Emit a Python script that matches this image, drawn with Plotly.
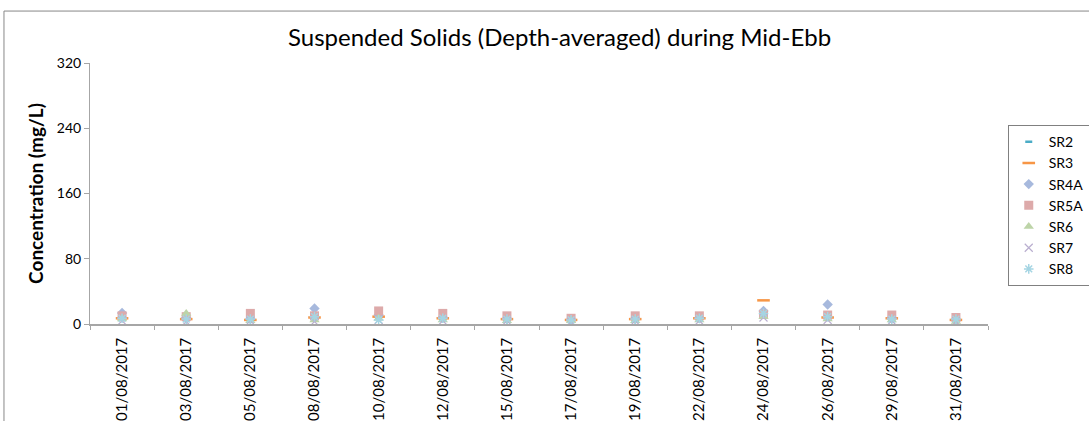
import plotly.graph_objects as go

dates = ["01/08/2017", "03/08/2017", "05/08/2017", "08/08/2017", "10/08/2017",
         "12/08/2017", "15/08/2017", "17/08/2017", "19/08/2017", "22/08/2017",
         "24/08/2017", "26/08/2017", "29/08/2017", "31/08/2017"]

sr2 = [6, 5, 5, 7, 8, 6, 5, 4, 5, 6, 9, 7, 5, 4]
sr3 = [7, 6, 5, 8, 9, 7, 6, 5, 6, 7, 29, 8, 7, 5]
sr4a = [13.5, 8, 6, 19, 11, 8, 6, 5, 6, 7, 16, 24, 7, 5]
sr5a = [10, 9, 13, 10, 16, 13, 10, 7, 10, 10, 12, 11, 11, 8]
sr6 = [6, 13, 4, 5, 7, 5, 4, 4, 4, 5, 9, 6, 5, 3]
sr7 = [4, 3, 4, 3, 5, 4, 4, 3, 4, 4, 8, 5, 4, 3]
sr8 = [7, 6, 6, 9, 5, 7, 6, 5, 6, 7, 13, 9, 6, 6]

series = [
    ("SR2", sr2, dict(symbol="line-ew", size=5, color="#4BACC6", line=dict(color="#4BACC6", width=2.5))),
    ("SR3", sr3, dict(symbol="line-ew", size=9, color="#F79646", line=dict(color="#F79646", width=2.5))),
    ("SR4A", sr4a, dict(symbol="diamond", size=8, color="#A7B9DD")),
    ("SR5A", sr5a, dict(symbol="square", size=9, color="#DDAAAA")),
    ("SR6", sr6, dict(symbol="triangle-up", size=9, color="#BDD4A8")),
    ("SR7", sr7, dict(symbol="x-thin", size=8, color="#B9AECF", line=dict(color="#B9AECF", width=1.2))),
    ("SR8", sr8, dict(symbol="asterisk", size=8, color="#A5D5E3", line=dict(color="#A5D5E3", width=1.5))),
]

fig = go.Figure()
for name, vals, mk in series:
    fig.add_trace(go.Scatter(x=dates, y=vals, mode="markers", name=name, marker=mk))

font_family = "Lato, 'Open Sans', sans-serif"

fig.update_layout(
    width=1089, height=421,
    margin=dict(l=90, r=101, t=63, b=97, autoexpand=False),
    paper_bgcolor="white", plot_bgcolor="white",
    font=dict(family=font_family, size=14, color="black"),
    showlegend=True,
    legend=dict(x=1.022, y=0.762, xanchor="left", yanchor="top",
                bordercolor="#808080", borderwidth=1, bgcolor="white",
                font=dict(size=14), itemwidth=30, tracegroupgap=0),
    annotations=[
        dict(text="Suspended Solids (Depth-averaged) during Mid-Ebb", xref="paper", yref="paper",
             x=0.523, y=1.10, xanchor="center", yanchor="middle", showarrow=False,
             font=dict(size=24, family=font_family, color="black")),
    ],
    shapes=[
        dict(type="rect", xref="paper", yref="paper", x0=-0.0958, x1=1.3, y0=-0.6, y1=1.199,
             line=dict(color="#888888", width=1), fillcolor="rgba(0,0,0,0)", layer="below"),
    ],
)

fig.update_xaxes(
    type="category", range=[-0.5, len(dates) - 0.5], showgrid=False, showline=True,
    linecolor="#A6A6A6", linewidth=1.5,
    ticks="outside", tickson="boundaries", ticklen=4, tickcolor="#A6A6A6", ticklabelstandoff=6,
    tickangle=-90, tickfont=dict(size=15), zeroline=False, automargin=False,
)
fig.update_yaxes(
    range=[0, 320], tickvals=[0, 80, 160, 240, 320], showgrid=False,
    showline=True, linecolor="#A6A6A6", linewidth=1, ticks="outside", ticklen=5,
    tickcolor="#A6A6A6", zeroline=False, tickfont=dict(size=14), automargin=False,
    title=dict(text="<b>Concentration (mg/L)</b>", font=dict(size=19), standoff=8),
)

fig.write_html("out.html", config={"displayModeBar": False},
               post_script="document.body.style.margin='0';document.body.style.overflow='hidden';")
